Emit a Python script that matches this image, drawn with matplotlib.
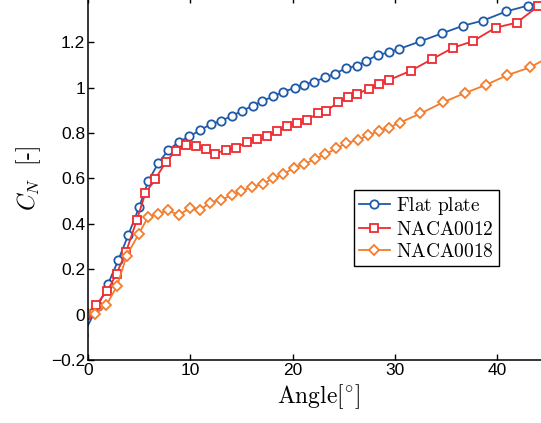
import matplotlib
matplotlib.use('Agg')
import matplotlib.pyplot as plt
from matplotlib.ticker import FuncFormatter

plt.rcParams['mathtext.fontset'] = 'cm'
plt.rcParams['font.family'] = 'Liberation Sans'

# Data
flat_x = [-0.5, 1.0, 1.98, 2.96, 3.94, 5.0, 5.9, 6.87, 7.85, 8.9, 9.9,
          10.95, 12.0, 13.0, 14.05, 15.1, 16.1, 17.0, 18.05, 19.1, 20.2,
          21.1, 22.1, 23.2, 24.1, 25.2, 26.3, 27.2, 28.3, 29.4, 30.4,
          32.5, 34.6, 36.7, 38.6, 40.9, 43.0, 45.1]
flat_y = [-0.09, 0.04, 0.137, 0.240, 0.351, 0.474, 0.589, 0.667, 0.725, 0.761, 0.785,
          0.812, 0.839, 0.853, 0.875, 0.898, 0.920, 0.939, 0.961, 0.981, 0.999,
          1.012, 1.026, 1.045, 1.06, 1.085, 1.096, 1.118, 1.143, 1.155, 1.17,
          1.204, 1.239, 1.273, 1.295, 1.336, 1.361, 1.385]

n12_x = [-0.2, 0.78, 1.9, 2.8, 3.7, 4.77, 5.6, 6.55, 7.6, 8.57, 9.55,
         10.56, 11.53, 12.44, 13.46, 14.47, 15.5, 16.5, 17.47, 18.45, 19.42,
         20.4, 21.38, 22.5, 23.3, 24.47, 25.45, 26.3, 27.47, 28.45, 29.45,
         31.54, 33.66, 35.7, 37.6, 39.85, 41.9, 44.0]
n12_y = [0.0, 0.044, 0.104, 0.181, 0.274, 0.416, 0.534, 0.596, 0.671, 0.722, 0.746,
         0.744, 0.728, 0.709, 0.725, 0.736, 0.759, 0.773, 0.785, 0.807, 0.829,
         0.842, 0.858, 0.886, 0.898, 0.935, 0.957, 0.971, 0.996, 1.015, 1.034,
         1.074, 1.126, 1.176, 1.204, 1.264, 1.286, 1.358]

n18_x = [-0.3, 0.7, 1.8, 2.86, 3.78, 4.96, 5.87, 6.87, 7.85, 8.9, 9.97,
         10.95, 11.93, 12.98, 14.05, 15.0, 16.08, 17.08, 18.05, 19.1, 20.14,
         21.1, 22.2, 23.2, 24.25, 25.2, 26.35, 27.4, 28.45, 29.45, 30.5,
         32.5, 34.7, 36.85, 38.9, 41.0, 43.2, 45.3]
n18_y = [0.015, 0.004, 0.042, 0.128, 0.260, 0.355, 0.430, 0.445, 0.459, 0.438, 0.471,
         0.461, 0.493, 0.506, 0.525, 0.544, 0.564, 0.574, 0.600, 0.618, 0.648,
         0.662, 0.686, 0.706, 0.732, 0.754, 0.770, 0.790, 0.809, 0.824, 0.846,
         0.886, 0.935, 0.976, 1.012, 1.055, 1.089, 1.14]

labels = [r'$\mathrm{Flat\ plate}$', r'$\mathrm{NACA0012}$', r'$\mathrm{NACA0018}$']
colors = ['#1f5aa8', '#ee2b30', '#f47c2c']

fig = plt.figure(figsize=(5.41, 4.23), dpi=100)
# axes extend past the right/top edge, like the cropped original
ax = fig.add_axes([88 / 541, 63 / 423, 45 * 10.23 / 541, 1.6 * 227 / 423])

style = dict(lw=1.3, ms=6, mew=1.3, mfc='white')
ax.plot(flat_x, flat_y, '-o', color=colors[0], label=labels[0], **style)
ax.plot(n12_x, n12_y, '-s', color=colors[1], label=labels[1], **style)
ax.plot(n18_x, n18_y, '-D', color=colors[2], label=labels[2],
        lw=1.3, ms=5.5, mew=1.3, mfc='white')

ax.set_xlim(0, 45)
ax.set_ylim(-0.2, 1.4)
ax.set_xticks([0, 10, 20, 30, 40])
ax.set_yticks([-0.2, 0, 0.2, 0.4, 0.6, 0.8, 1.0, 1.2])
ax.yaxis.set_major_formatter(FuncFormatter(lambda v, p: ('%g' % round(v, 2)).replace('-', '\u2212')))
ax.tick_params(direction='in', length=4, width=1, labelsize=12.5,
               top=True, right=True, pad=2)
for s in ax.spines.values():
    s.set_linewidth(1.1)

ax.set_xlabel(r'$\mathrm{Angle}[^{\circ}]$', fontsize=17, labelpad=3)
ax.set_ylabel(r'$C_N\ \ [\text{-}]$', fontsize=17, labelpad=6)

leg = ax.legend(loc='upper left', bbox_to_anchor=(354 / 541, 1 - 190 / 423),
                bbox_transform=fig.transFigure, fontsize=14, frameon=True,
                fancybox=False, framealpha=1, edgecolor='black',
                handlelength=1.6, handletextpad=0.3, borderpad=0.25,
                labelspacing=0.2, borderaxespad=0)
leg.get_frame().set_linewidth(1.0)

fig.savefig('out.png', dpi=100)
